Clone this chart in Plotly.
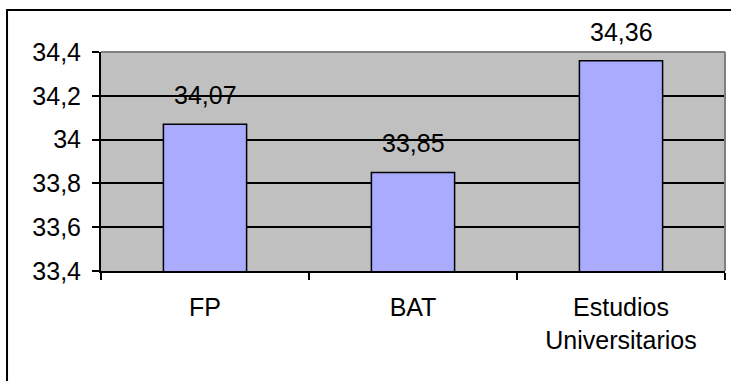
import plotly.graph_objects as go

# Data
categories = ["FP", "BAT", "Estudios Universitarios"]
tick_labels = ["FP", "BAT", "Estudios<br>Universitarios"]
values = [34.07, 33.85, 34.36]

y_min, y_max, y_step = 33.4, 34.4, 0.2

FONT = "Liberation Sans, Arial, sans-serif"
FONT_SIZE = 25

fig = go.Figure()

fig.add_trace(go.Bar(
    x=categories,
    y=values,
    width=0.4,
    marker=dict(color="#AAAAFF", line=dict(color="#000000", width=1.5)),
    hoverinfo="skip",
))

# Value labels above each bar, comma as decimal separator
for cat, v in zip(categories, values):
    fig.add_annotation(
        x=cat, y=v,
        text=f"{v:.2f}".replace(".", ","),
        showarrow=False,
        yanchor="middle",
        yshift=29,
        font=dict(family=FONT, size=FONT_SIZE, color="#000000"),
    )

# Gray border on top and right of the plot area
fig.add_shape(type="line", xref="paper", yref="paper", x0=0, x1=1, y0=1, y1=1,
              line=dict(color="#808080", width=2), layer="above")
fig.add_shape(type="line", xref="paper", yref="paper", x0=1, x1=1, y0=0, y1=1,
              line=dict(color="#808080", width=2), layer="above")

# Outer chart frame
fig.add_shape(type="rect", xref="paper", yref="paper",
              x0=-0.1506, x1=1.2, y0=-1.0, y1=1.1918,
              line=dict(color="#000000", width=2), fillcolor="rgba(0,0,0,0)",
              layer="above")

fig.update_layout(
    width=731, height=381,
    margin=dict(l=101, r=6, t=52, b=110),
    paper_bgcolor="#FFFFFF",
    plot_bgcolor="#C0C0C0",
    separators=",.",
    showlegend=False,
    font=dict(family=FONT, size=FONT_SIZE, color="#000000"),
    bargap=0.6,
)

fig.update_xaxes(
    type="category",
    tickvals=categories,
    ticktext=tick_labels,
    tickson="boundaries",
    ticks="outside", ticklen=7, tickwidth=2, tickcolor="#000000",
    showline=True, linecolor="#000000", linewidth=2,
    showgrid=False,
    tickfont=dict(family=FONT, size=FONT_SIZE, color="#000000"),
    ticklabelstandoff=13,
)

fig.update_yaxes(
    range=[y_min, y_max],
    dtick=y_step, tick0=y_min,
    ticks="outside", ticklen=7, tickwidth=2, tickcolor="#000000",
    showline=True, linecolor="#000000", linewidth=2,
    showgrid=True, gridcolor="#000000", gridwidth=2,
    zeroline=False,
    tickfont=dict(family=FONT, size=FONT_SIZE, color="#000000"),
    ticklabelstandoff=6,
)

fig.write_html("out.html")
